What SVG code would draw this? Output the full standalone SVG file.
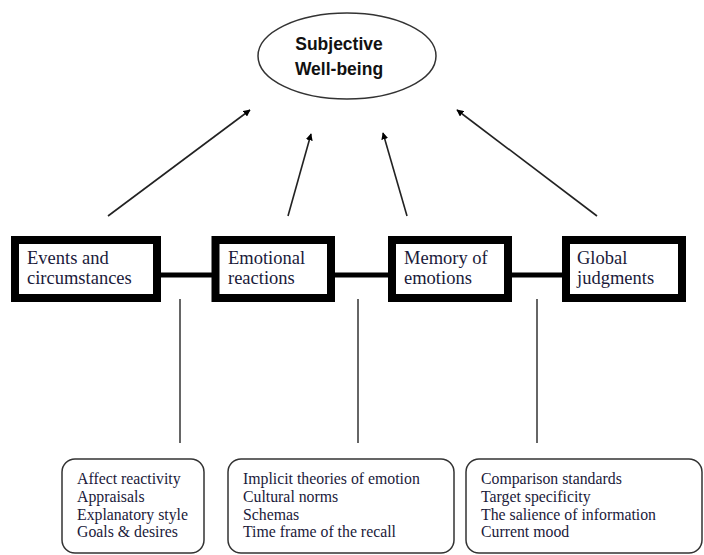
<svg xmlns="http://www.w3.org/2000/svg" width="704" height="555" viewBox="0 0 704 555">
<style>
.bx{fill:#fff;stroke:#000;stroke-width:8}
.rb{fill:#fff;stroke:#333;stroke-width:1.5}
.t{font-family:"Liberation Serif","Times New Roman",serif;font-size:18.5px;fill:#1a1a3a}
.s{font-family:"Liberation Serif","Times New Roman",serif;font-size:15.8px;fill:#1a1a3a}
.h{font-family:"Liberation Sans",Arial,sans-serif;font-size:17.5px;font-weight:bold;fill:#111}
.ar{stroke:#222;stroke-width:1.6;fill:none;marker-end:url(#ah)}
.ln{stroke:#000;stroke-width:5}
.vl{stroke:#333;stroke-width:1.5}
</style>
<defs>
<marker id="ah" viewBox="0 0 10 10" refX="9" refY="5" markerWidth="7" markerHeight="7" orient="auto" markerUnits="userSpaceOnUse">
<path d="M0,0 L10,5 L0,10 z" fill="#000"/>
</marker>
</defs>
<rect width="704" height="555" fill="#fff"/>
<g id="connectors">
<line class="ar" x1="108" y1="216" x2="250" y2="110"/>
<line class="ar" x1="288" y1="216" x2="311" y2="134"/>
<line class="ar" x1="407" y1="216" x2="383" y2="133"/>
<line class="ar" x1="597" y1="216" x2="457" y2="110"/>
<line class="ln" x1="157" y1="275" x2="215" y2="275"/>
<line class="ln" x1="331" y1="275" x2="392" y2="275"/>
<line class="ln" x1="508" y1="275" x2="566" y2="275"/>
<line class="vl" x1="180" y1="299" x2="180" y2="443"/>
<line class="vl" x1="358" y1="299" x2="358" y2="443"/>
<line class="vl" x1="537" y1="299" x2="537" y2="443"/>
</g>
<g id="swb">
<ellipse cx="347" cy="56" rx="89" ry="43" fill="#fff" stroke="#333" stroke-width="1.5"/>
<text class="h" x="339" y="50" text-anchor="middle">Subjective</text>
<text class="h" x="339" y="75" text-anchor="middle">Well-being</text>
</g>
<g id="events">
<rect class="bx" x="15" y="240" width="142" height="58"/>
<text class="t" x="27" y="264">Events and</text>
<text class="t" x="27" y="284">circumstances</text>
</g>
<g id="emotional">
<rect class="bx" x="215.5" y="240" width="115.5" height="58"/>
<text class="t" x="228" y="264">Emotional</text>
<text class="t" x="228" y="284">reactions</text>
</g>
<g id="memory">
<rect class="bx" x="392" y="240" width="116" height="58"/>
<text class="t" x="404" y="264">Memory of</text>
<text class="t" x="404" y="284">emotions</text>
</g>
<g id="global">
<rect class="bx" x="566" y="240" width="116" height="58"/>
<text class="t" x="577" y="264">Global</text>
<text class="t" x="577" y="284">judgments</text>
</g>
<g id="factorsA">
<rect class="rb" x="62" y="459" width="142" height="94" rx="13"/>
<text class="s" x="77" y="484">Affect reactivity</text>
<text class="s" x="77" y="502">Appraisals</text>
<text class="s" x="77" y="520">Explanatory style</text>
<text class="s" x="77" y="537">Goals &amp; desires</text>
</g>
<g id="factorsB">
<rect class="rb" x="228" y="459" width="226" height="94" rx="13"/>
<text class="s" x="243" y="484">Implicit theories of emotion</text>
<text class="s" x="243" y="502">Cultural norms</text>
<text class="s" x="243" y="520">Schemas</text>
<text class="s" x="243" y="537">Time frame of the recall</text>
</g>
<g id="factorsC">
<rect class="rb" x="466" y="459" width="236" height="94" rx="13"/>
<text class="s" x="481" y="484">Comparison standards</text>
<text class="s" x="481" y="502">Target specificity</text>
<text class="s" x="481" y="520">The salience of information</text>
<text class="s" x="481" y="537">Current mood</text>
</g>
</svg>
